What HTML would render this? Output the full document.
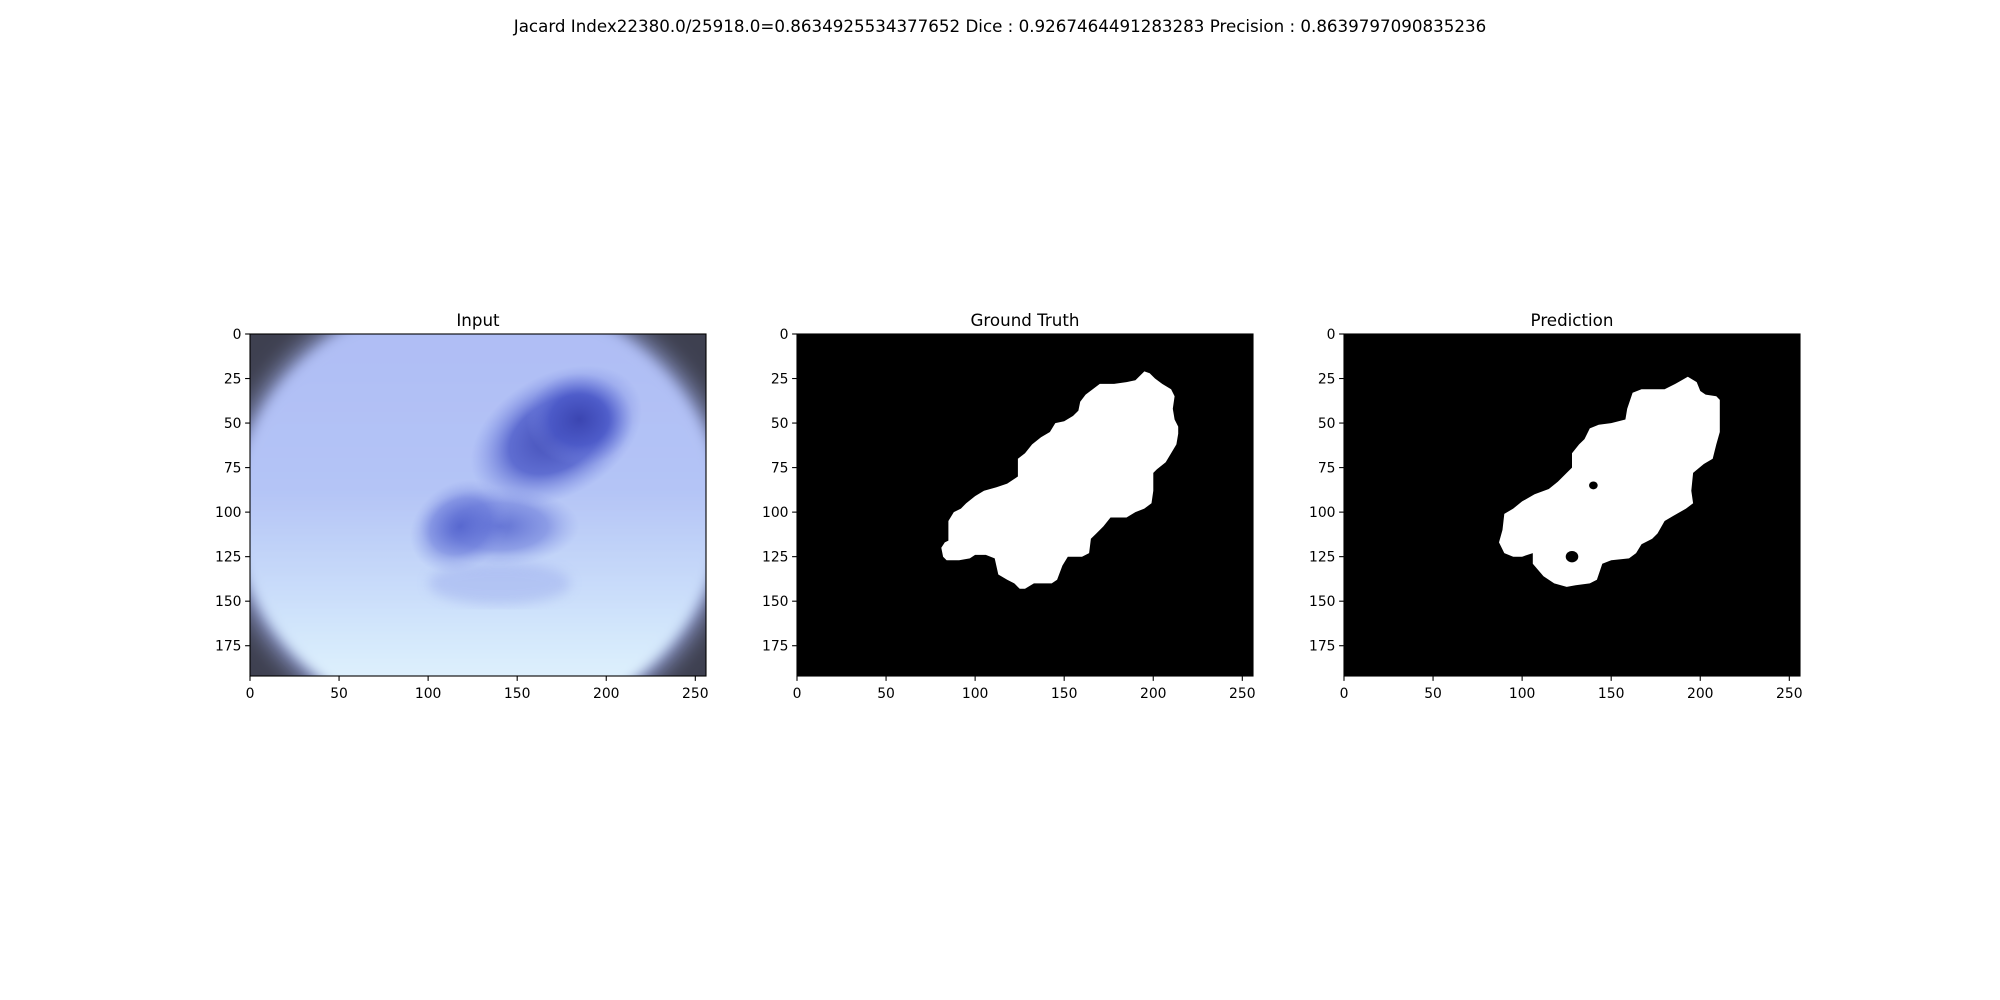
<!DOCTYPE html>
<html><head><meta charset="utf-8"><style>
html,body{margin:0;padding:0;background:#fff;width:2000px;height:1000px;overflow:hidden}
svg text{font-family:"DejaVu Sans","Liberation Sans",sans-serif;fill:#000}
</style></head><body>
<svg id="fig" width="2000" height="1000" xmlns="http://www.w3.org/2000/svg">
<defs>
<linearGradient id="skin" x1="0" y1="0" x2="0" y2="1">
<stop offset="0" stop-color="#aebcf4"/><stop offset="0.45" stop-color="#b4c4f6"/><stop offset="0.75" stop-color="#d0e4fb"/><stop offset="1" stop-color="#eafcff"/>
</linearGradient>
<radialGradient id="lesion" cx="0.5" cy="0.5" r="0.5">
<stop offset="0" stop-color="#3a44b0" stop-opacity="0.95"/><stop offset="0.55" stop-color="#4a58c8" stop-opacity="0.8"/><stop offset="1" stop-color="#7a8ae4" stop-opacity="0"/>
</radialGradient>
<radialGradient id="lesion2" cx="0.5" cy="0.5" r="0.5">
<stop offset="0" stop-color="#5060cc" stop-opacity="0.85"/><stop offset="0.6" stop-color="#6474d8" stop-opacity="0.55"/><stop offset="1" stop-color="#8a9ae8" stop-opacity="0"/>
</radialGradient>
<filter id="blur"><feGaussianBlur stdDeviation="6"/></filter>
<filter id="blur2"><feGaussianBlur stdDeviation="12"/></filter>
<clipPath id="clip1"><rect x="250" y="334" width="456" height="342"/></clipPath>
</defs>
<text x="1000" y="32" font-size="16.7" text-anchor="middle">Jacard Index22380.0/25918.0=0.8634925534377652 Dice : 0.9267464491283283 Precision : 0.8639797090835236</text>
</svg>
<script>
const xTicks=[0,50,100,150,200,250];
const yTicks=[0,25,50,75,100,125,150,175];
const imgW=256, imgH=192;
const panelTitles=["Input","Ground Truth","Prediction"];
const panelLeft=[250,797,1344];
const gtX=[195,198,201,205,210,212,211,212,214,214,213,210,207,202,200,200,199,195,190,185,176,172,168,165,164,160,152,149,146,143,133,128,125,122,118,113,111,106,100,97,91,84,82,81,83,85,85,88,92,95,100,105,112,118,124,124,128,132,137,142,145,150,155,158,159,162,166,170,178,185,190];
const gtY=[21,22,25,28,31,35,42,48,52,56,62,67,72,76,78,88,95,98,100,103,103,108,112,115,123,125,125,130,138,140,140,143,143,140,138,135,126,124,124,126,127,127,125,120,117,116,105,100,98,95,91,88,86,84,80,70,67,62,58,55,50,49,46,43,38,34,31,28,28,27,26];
const prX=[186,193,198,200,203,209,211,211,211,209,207,202,196,195,196,192,185,180,176,173,167,164,160,150,145,142,138,130,125,118,112,106,106,100,95,90,87,89,90,95,100,107,115,120,125,128,128,132,135,138,143,150,158,159,162,167,180];
const prY=[28,24,27,32,34,35,37,48,55,62,70,73,78,88,95,98,102,105,112,115,118,123,126,127,129,138,140,141,142,140,136,129,123,125,125,123,117,110,101,98,94,90,87,83,78,75,67,62,59,53,51,50,48,42,33,31,31];
const holeX=[140,128], holeY=[85,125], holeR=[2.2,3.2];
const plotTop=334, W=456, H=342;
const NS="http://www.w3.org/2000/svg";
const svg=document.getElementById('fig');
function mk(t,a,p){const e=document.createElementNS(NS,t);for(const k in a)e.setAttribute(k,a[k]);(p||svg).appendChild(e);return e;}
function sx(i,v){return panelLeft[i]+v/imgW*W;}
function sy(v){return plotTop+v/imgH*H;}
function su(v){return v/imgW*W;}
function poly(i,xs,ys){return xs.map((x,k)=>sx(i,x).toFixed(1)+','+sy(ys[k]).toFixed(1)).join(' ');}
for(let i=0;i<3;i++){
  const g=mk('g',{});
  
  
  const L=panelLeft[i];
  if(i===0){
    const im=mk('g',{'clip-path':'url(#clip1)'},g);
    
    
    mk('rect',{x:L,y:plotTop,width:W,height:H,fill:'#3e4050'},im);
    mk('ellipse',{cx:sx(0,128),cy:sy(100),rx:su(142),ry:su(128),fill:'#8f9bd0',filter:'url(#blur2)'},im);
    mk('ellipse',{cx:sx(0,128),cy:sy(100),rx:su(136),ry:su(122),fill:'url(#skin)',filter:'url(#blur)'},im);
    mk('ellipse',{cx:sx(0,140),cy:sy(108),rx:su(45),ry:su(22),fill:'url(#lesion2)'},im);
    mk('ellipse',{cx:sx(0,118),cy:sy(108),rx:su(30),ry:su(24),fill:'url(#lesion2)',transform:`rotate(-35 ${sx(0,118)} ${sy(108)})`},im);
    mk('ellipse',{cx:sx(0,172),cy:sy(57),rx:su(52),ry:su(34),fill:'url(#lesion)',transform:`rotate(-30 ${sx(0,172)} ${sy(57)})`},im);
    mk('ellipse',{cx:sx(0,185),cy:sy(48),rx:su(30),ry:su(26),fill:'url(#lesion)'},im);
    mk('ellipse',{cx:sx(0,140),cy:sy(140),rx:su(40),ry:su(12),fill:'#8a9ae8',opacity:0.35,filter:'url(#blur)'},im);
  } else {
    mk('rect',{x:L,y:plotTop,width:W,height:H,fill:'#000'},g);
    const xs=i===1?gtX:prX, ys=i===1?gtY:prY;
    const m=mk('polygon',{points:poly(i,xs,ys),fill:'#fff'},g);
    
    
    if(i===2){for(let h=0;h<holeX.length;h++){
      const c=mk('ellipse',{cx:sx(2,holeX[h]),cy:sy(holeY[h]),rx:holeR[h]*W/imgW*1.1,ry:holeR[h]*H/imgH,fill:'#000'},g);
      
      
    }}
  }
  mk('rect',{x:L,y:plotTop,width:W,height:H,fill:'none',stroke:'#000','stroke-width':1.1},g);
  const t=mk('text',{x:L+W/2,y:plotTop-8,'font-size':16.7,'text-anchor':'middle'},g);t.textContent=panelTitles[i];
  
  
  xTicks.forEach(v=>{const x=sx(i,v);mk('line',{x1:x,y1:plotTop+H,x2:x,y2:plotTop+H+4.9,stroke:'#000','stroke-width':1.1},g);
    const tl=mk('text',{x:x,y:plotTop+H+22,'font-size':13.9,'text-anchor':'middle'},g);tl.textContent=v;
    
    });
  yTicks.forEach(v=>{const y=sy(v);mk('line',{x1:L-4.9,y1:y,x2:L,y2:y,stroke:'#000','stroke-width':1.1},g);
    const tl=mk('text',{x:L-8.5,y:y+5,'font-size':13.9,'text-anchor':'end'},g);tl.textContent=v;
    
    });
}
</script>
</body></html>
